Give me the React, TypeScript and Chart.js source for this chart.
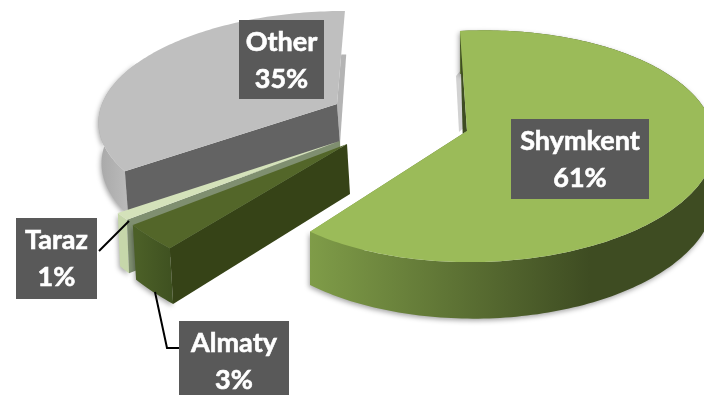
import React, { useEffect, useRef } from "react";
import { Chart, registerables } from "chart.js";

Chart.register(...registerables);

// Share of the total per city, in percent.
const cities = ["Shymkent", "Almaty", "Taraz", "Other"];
const shares = [61, 3, 1, 35];
const topColors = ["#9bbb59", "#536629", "#d4e2ba", "#bfbfbf"];

// Perspective of each exploded wedge: apex, radii, skew, foreshortening, extrusion.
const wedgeViews = [
  { ox: 467, oy: 131, a: 236, s: 8, b: 113.5, t: -8, k: 0.134, m: 0.035, hx: 0, hy: 49 },
  { ox: 347, oy: 144, a: 265, s: 13, b: 132, t: 13, k: 0.134, m: 0, hx: 3, hy: 50 },
  { ox: 340, oy: 141, a: 253, s: 0, b: 113, t: 0, k: 0.134, m: 0, hx: 2, hy: 49 },
  { ox: 337, oy: 104, a: 235, s: -9, b: 105.5, t: 0, k: 0.134, m: 0, hx: 3, hy: 40 },
];

// Side-wall colours per wedge.
const wallFrom = ["#7f9c48", "#4b5f27", "#c6d7aa", "#a9a9a9"];
const wallTo = ["#3e4c22", "#3e5020", "#c6d7aa", "#bcbcbc"];
const wallSpan = [[310, 590], [138, 175], [118, 134], [100, 130]];
const cutColors = ["#3e4c22", "#364317", "#7f8f70", "#636363"];

// Callout boxes and their leader lines.
const calloutBoxes = [
  { x: 511, y: 119, w: 138, h: 80 },
  { x: 179, y: 321, w: 110, h: 80 },
  { x: 16, y: 218, w: 81, h: 81 },
  { x: 239, y: 20, w: 85, h: 79 },
];
const leaders = [
  [],
  [[155, 292], [167, 348], [179, 348]],
  [[99, 251], [129, 221]],
  [],
];

type View = (typeof wedgeViews)[number];
type Pt = [number, number];

function project(v: View, theta: number, r: number, depth = 0): Pt {
  const u = r * Math.sin(theta);
  const d = -r * Math.cos(theta);
  const w = 1 - v.k * d - v.m * u;
  return [
    v.ox + (v.a * u + v.s * d + depth * v.hx) / w,
    v.oy + (v.t * u + v.b * d + depth * v.hy) / w,
  ];
}

function fillPoly(ctx: CanvasRenderingContext2D, pts: Pt[], fill: string | CanvasGradient) {
  ctx.beginPath();
  pts.forEach(([x, y], i) => (i ? ctx.lineTo(x, y) : ctx.moveTo(x, y)));
  ctx.closePath();
  ctx.fillStyle = fill;
  ctx.fill();
}

function arcPoints(v: View, from: number, to: number, depth: number): Pt[] {
  const steps = Math.max(4, Math.ceil(Math.abs(to - from) / 0.02));
  const pts: Pt[] = [];
  for (let i = 0; i <= steps; i++) pts.push(project(v, from + ((to - from) * i) / steps, 1, depth));
  return pts;
}

// Replaces the flat pie drawing with extruded wedges built from the arc elements' angles.
const extrudedPie = {
  id: "extrudedPie",
  beforeDatasetDraw(chart: Chart) {
    const ctx = chart.ctx;
    const arcs = chart.getDatasetMeta(0).data as any[];
    for (const i of [3, 2, 1, 0]) {
      const v = wedgeViews[i];
      const from = arcs[i].startAngle + Math.PI / 2;
      const to = arcs[i].endAngle + Math.PI / 2;
      const top = arcs[i].options.backgroundColor;

      ctx.save();
      if (i === 3) {
        // Far cut face of the grey wedge, peeking out on its right.
        const [mx, my] = project(v, to, 0.5);
        fillPoly(ctx, [[mx, my], [mx + 5, my], project(v, to, 0, 1), project(v, to, 0)], "#b4b4b4");
      }
      if (i === 0) {
        fillPoly(ctx, [project(v, from, 0.6), project(v, from, 0.05), [459, 132], [456, 76]], "#d2d2d2");
      }

      // Outer rim, with a soft drop shadow. The grey wedge only shows its near part.
      const rimEnd = i === 3 ? from + Math.PI / 3 : to;
      const g = ctx.createLinearGradient(wallSpan[i][0], 0, wallSpan[i][1], 0);
      g.addColorStop(0, wallFrom[i]);
      g.addColorStop(1, wallTo[i]);
      ctx.shadowColor = "rgba(0,0,0,0.35)";
      ctx.shadowBlur = 5;
      ctx.shadowOffsetX = -1;
      ctx.shadowOffsetY = 2;
      fillPoly(ctx, [...arcPoints(v, from, rimEnd, 0), ...arcPoints(v, rimEnd, from, 1)], g);
      ctx.shadowColor = "transparent";

      // Cut face turned toward the viewer.
      const faceAngle = i === 0 ? to : from;
      fillPoly(ctx, [project(v, faceAngle, 1), project(v, faceAngle, 0), project(v, faceAngle, 0, 1), project(v, faceAngle, 1, 1)], i === 0 ? g : cutColors[i]);
      if (i === 0) {
        fillPoly(ctx, [project(v, from, 1), project(v, from, 0), project(v, to, 0.03)], cutColors[0]);
      }

      // Top surface.
      fillPoly(ctx, [project(v, from, 0), ...arcPoints(v, from, to, 0)], top);
      ctx.restore();
    }
    return false;
  },
  afterDatasetsDraw(chart: Chart) {
    const ctx = chart.ctx;
    const labels = chart.data.labels as string[];
    const values = chart.data.datasets[0].data as number[];
    ctx.save();
    ctx.strokeStyle = "#000000";
    ctx.lineWidth = 2;
    leaders.forEach((line) => {
      if (!line.length) return;
      ctx.beginPath();
      line.forEach(([x, y], i) => (i ? ctx.lineTo(x, y) : ctx.moveTo(x, y)));
      ctx.stroke();
    });
    ctx.textAlign = "center";
    ctx.textBaseline = "middle";
    ctx.font = 'bold 27px "Lato", sans-serif';
    ctx.lineWidth = 0.6;
    ctx.strokeStyle = "#ffffff";
    calloutBoxes.forEach((b, i) => {
      ctx.fillStyle = "#595959";
      ctx.fillRect(b.x, b.y, b.w, b.h);
      ctx.fillStyle = "#ffffff";
      const percent = `${values[i]}%`;
      ctx.fillText(labels[i], b.x + b.w / 2, b.y + 22);
      ctx.strokeText(labels[i], b.x + b.w / 2, b.y + 22);
      ctx.fillText(percent, b.x + b.w / 2, b.y + 59);
      ctx.strokeText(percent, b.x + b.w / 2, b.y + 59);
    });
    ctx.restore();
  },
};

export default function App() {
  const ref = useRef<HTMLCanvasElement>(null);
  useEffect(() => {
    const chart = new Chart(ref.current!, {
      type: "pie",
      data: {
        labels: cities,
        datasets: [{ data: shares, backgroundColor: topColors, borderWidth: 0 }],
      },
      options: {
        animation: false,
        responsive: false,
        plugins: { legend: { display: false }, tooltip: { enabled: false } },
      },
      plugins: [extrudedPie],
    } as any);
    return () => chart.destroy();
  }, []);
  return (
    <canvas
      ref={ref}
      width={704}
      height={395}
      style={{ position: "fixed", left: 0, top: 0, width: 704, height: 395, display: "block" }}
    />
  );
}
